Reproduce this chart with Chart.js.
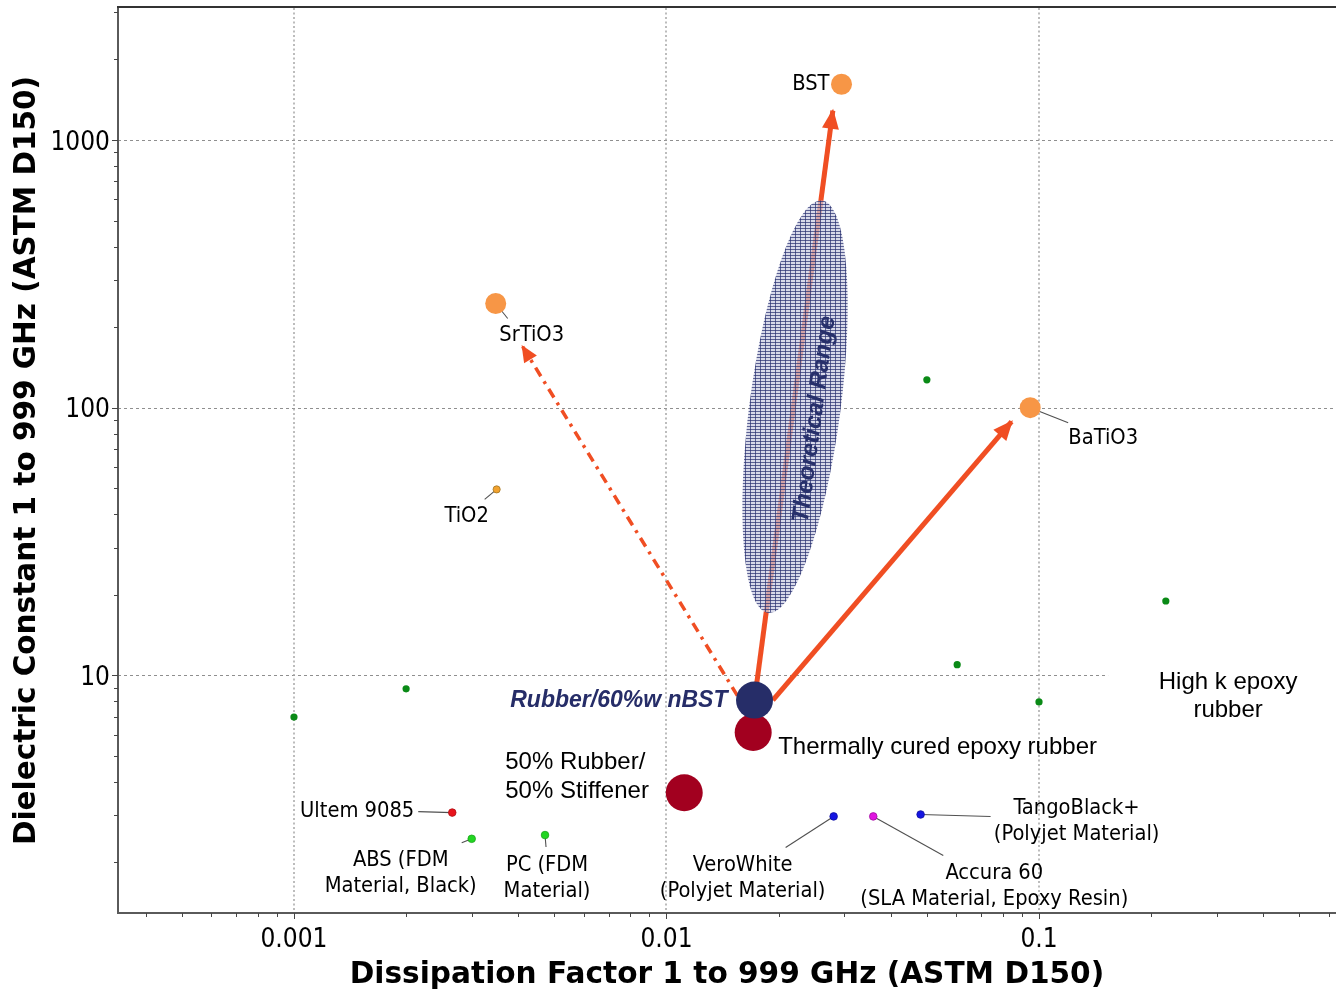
<!DOCTYPE html>
<html><head><meta charset="utf-8">
<script src="https://cdn.jsdelivr.net/npm/chart.js@4.4.1/dist/chart.umd.min.js"></script>
<style>html,body{margin:0;padding:0;background:#fff;}canvas{display:block;}</style>
</head><body>
<canvas id="c" width="1336" height="997"></canvas>
<script>
// ---------------- DATA ----------------
const xTickValues = [0.001, 0.01, 0.1];
const xTickLabels = ['0.001', '0.01', '0.1'];
const yTickValues = [10, 100, 1000];
const yTickLabels = ['10', '100', '1000'];
const xRange = [0.000337, 0.627];
const yRange = [1.294, 3113];

const xTitle = 'Dissipation Factor 1 to 999 GHz (ASTM D150)';
const yTitle = 'Dielectric Constant 1 to 999 GHz (ASTM D150)';

// large composite samples
const compositeNames = ['Rubber/60%w nBST', 'Thermally cured epoxy rubber', '50% Rubber/50% Stiffener'];
const compositeDf = [0.01723, 0.01709, 0.01116];
const compositeDk = [8.08, 6.12, 3.64];

// ceramic fillers
const ceramicNames = ['BST', 'SrTiO3', 'BaTiO3'];
const ceramicDf = [0.0295, 0.00348, 0.0947];
const ceramicDk = [1615, 245, 100];

const tio2Names = ['TiO2'];
const tio2Df = [0.0035];
const tio2Dk = [49.5];

// high k epoxy rubber literature points
const highKDf = [0.001, 0.002, 0.05, 0.0603, 0.1, 0.219];
const highKDk = [6.98, 8.9, 127, 10.96, 7.95, 18.95];
const highKLabel = 'High k epoxy rubber';
const highKLabelAt = [0.3218, 8.43];

// 3D printing materials
const printNames = ['Ultem 9085', 'ABS (FDM Material, Black)', 'PC (FDM Material)', 'VeroWhite (Polyjet Material)', 'Accura 60 (SLA Material, Epoxy Resin)', 'TangoBlack+ (Polyjet Material)'];
const printDf = [0.00266, 0.0030, 0.00472, 0.0281, 0.0359, 0.0481];
const printDk = [3.07, 2.45, 2.53, 2.97, 2.97, 3.02];

// arrows (from composite towards fillers)
const arrowFromDf = [0.01723, 0.0193, 0.0155];
const arrowFromDk = [8.08, 8.08, 8.4];
const arrowToDf = [0.02796, 0.0844, 0.00411];
const arrowToDk = [1287, 88.6, 169];

// theoretical range ellipse: major axis end points + minor/major ratio
const rangeLabel = 'Theoretical Range';
const rangeEndDf = [0.02617, 0.01872];
const rangeEndDk = [594, 17.1];
const rangeRatio = [0.219];

// ---------------- STYLE ----------------
function hasFont(name) {
  const c = document.createElement('canvas').getContext('2d');
  const s = 'abcdefghijklmnopqrstuvwxyz0123456789ABCDEF';
  c.font = '40px monospace'; const w1 = c.measureText(s).width;
  c.font = '40px "' + name + '", monospace'; const w2 = c.measureText(s).width;
  return Math.abs(w1 - w2) > 0.5;
}
const COND = hasFont('DejaVu Sans Condensed');
const smallFont = COND ? '21.7px "DejaVu Sans Condensed"' : '19.6px "DejaVu Sans"';
const tickFont = COND ? '26px "DejaVu Sans Condensed"' : '24px "DejaVu Sans"';
const bigFont = '24px "Liberation Sans", Arial, sans-serif';
const NAVY = '#262D68';
const ARROW = '#F04E23';

const labelLayout = {
  'BST': {lines: ['BST'], dx: -12, dy: 0, align: 'right', font: smallFont},
  'SrTiO3': {lines: ['SrTiO3'], dx: 36, dy: 32, align: 'center', font: smallFont, leader: [12, 15]},
  'BaTiO3': {lines: ['BaTiO3'], dx: 73, dy: 31, align: 'center', font: smallFont, leader: [38, 15]},
  'TiO2': {lines: ['TiO2'], dx: -30, dy: 27, align: 'center', font: smallFont, leader: [-12, 10]},
  'Ultem 9085': {lines: ['Ultem 9085'], dx: -38, dy: -1, align: 'right', font: smallFont, leader: [-34, -1]},
  'ABS (FDM Material, Black)': {lines: ['ABS (FDM', 'Material, Black)'], dx: -71, dy: 22, align: 'center', font: smallFont, lh: 26, leader: [-10, 4]},
  'PC (FDM Material)': {lines: ['PC (FDM', 'Material)'], dx: 2, dy: 30, align: 'center', font: smallFont, lh: 26, leader: [1, 12]},
  'VeroWhite (Polyjet Material)': {lines: ['VeroWhite', '(Polyjet Material)'], dx: -91, dy: 49, align: 'center', font: smallFont, lh: 26, leader: [-48, 31]},
  'Accura 60 (SLA Material, Epoxy Resin)': {lines: ['Accura 60', '(SLA Material, Epoxy Resin)'], dx: 121, dy: 57, align: 'center', font: smallFont, lh: 26, leader: [70, 39]},
  'TangoBlack+ (Polyjet Material)': {lines: ['TangoBlack+', '(Polyjet Material)'], dx: 156, dy: -6, align: 'center', font: smallFont, lh: 26, leader: [70, 2]},
  'Rubber/60%w nBST': {lines: ['Rubber/60%w nBST'], dx: -27, dy: 1, align: 'right', font: 'italic bold 23px "Liberation Sans", Arial, sans-serif', color: NAVY},
  'Thermally cured epoxy rubber': {lines: ['Thermally cured epoxy rubber'], dx: 25, dy: 15, align: 'left', font: bigFont},
  '50% Rubber/50% Stiffener': {lines: ['50% Rubber/', '50% Stiffener'], dx: -179, dy: -30, align: 'left', font: bigFont, lh: 29}
};

function pts(xs, ys) { return xs.map((x, i) => ({x: x, y: ys[i]})); }

const datasets = [
  {label: 'nBST composite', data: pts(compositeDf.slice(0, 1), compositeDk.slice(0, 1)), pointRadius: 18.5, pointBackgroundColor: NAVY, pointBorderColor: NAVY, pointBorderWidth: 0, order: 0},
  {label: 'Epoxy rubber', data: pts(compositeDf.slice(1), compositeDk.slice(1)), pointRadius: 18.5, pointBackgroundColor: '#A2001F', pointBorderColor: '#A2001F', pointBorderWidth: 0, order: 1},
  {label: 'Ceramics', data: pts(ceramicDf, ceramicDk), pointRadius: 10.5, pointBackgroundColor: '#F79646', pointBorderColor: '#F79646', pointBorderWidth: 0, order: 1},
  {label: 'TiO2', data: pts(tio2Df, tio2Dk), pointRadius: 3.6, pointBackgroundColor: '#F2A22E', pointBorderColor: '#A0762A', pointBorderWidth: 0.8, order: 1},
  {label: highKLabel, data: pts(highKDf, highKDk), pointRadius: 3.6, pointBackgroundColor: '#0A8A16', pointBorderColor: '#0A8A16', pointBorderWidth: 0, order: 1},
  {label: '3D printing', data: pts(printDf, printDk), pointRadius: 3.8,
   pointBackgroundColor: ['#E8141C', '#22D622', '#22D622', '#1515E2', '#E015E0', '#1515E2'],
   pointBorderColor: ['#B01015', '#1AA51A', '#1AA51A', '#1010A0', '#A010A0', '#1010A0'], pointBorderWidth: 0.8, order: 1}
];
for (let i = 0; i < arrowFromDf.length; i++) {
  datasets.push({
    label: 'arrow' + i,
    data: [{x: arrowFromDf[i], y: arrowFromDk[i]}, {x: arrowToDf[i], y: arrowToDk[i]}],
    showLine: true, pointRadius: 0, borderColor: ARROW,
    borderWidth: i === 2 ? 3.5 : 5, borderDash: i === 2 ? [10, 6, 3, 6] : [],
    order: 5, fill: false
  });
}

function px(chart, x, y) { return [chart.scales.x.getPixelForValue(x), chart.scales.y.getPixelForValue(y)]; }

const underlay = {
  id: 'underlay',
  beforeDatasetsDraw(chart) {
    const {ctx, chartArea: a, scales: {x, y}} = chart;
    ctx.save();
    // grid
    ctx.lineWidth = 1;
    ctx.strokeStyle = '#8f8f8f';
    ctx.setLineDash([3, 3]);
    yTickValues.forEach(v => { const p = Math.round(y.getPixelForValue(v)) + 0.5; ctx.beginPath(); ctx.moveTo(a.left, p); ctx.lineTo(a.right, p); ctx.stroke(); });
    ctx.strokeStyle = '#a6a6a6';
    ctx.lineWidth = 1.5;
    ctx.setLineDash([2, 2.5]);
    xTickValues.forEach(v => { const p = Math.round(x.getPixelForValue(v)); ctx.beginPath(); ctx.moveTo(p, a.top); ctx.lineTo(p, a.bottom); ctx.stroke(); });
    ctx.setLineDash([]);
    // tick labels
    ctx.fillStyle = '#000'; ctx.font = tickFont; ctx.textBaseline = 'alphabetic';
    ctx.textAlign = 'center';
    xTickValues.forEach((v, i) => ctx.fillText(xTickLabels[i], x.getPixelForValue(v), a.bottom + 34));
    ctx.textAlign = 'right';
    yTickValues.forEach((v, i) => ctx.fillText(yTickLabels[i], a.left - 8, y.getPixelForValue(v) + 9.5));
    // leader lines
    ctx.strokeStyle = '#505050'; ctx.lineWidth = 1.1;
    const allNames = [].concat(ceramicNames, tio2Names, printNames);
    const allX = [].concat(ceramicDf, tio2Df, printDf);
    const allY = [].concat(ceramicDk, tio2Dk, printDk);
    allNames.forEach((n, i) => {
      const L = labelLayout[n]; if (!L || !L.leader) return;
      const [sx, sy] = px(chart, allX[i], allY[i]);
      ctx.beginPath(); ctx.moveTo(sx, sy); ctx.lineTo(sx + L.leader[0], sy + L.leader[1]); ctx.stroke();
    });
    ctx.restore();
  },
  afterDatasetsDraw(chart) {
    const {ctx, chartArea: a, scales: {x, y}} = chart;
    ctx.save();
    // ellipse
    const [x1, y1] = px(chart, rangeEndDf[0], rangeEndDk[0]);
    const [x2, y2] = px(chart, rangeEndDf[1], rangeEndDk[1]);
    const cx = (x1 + x2) / 2, cy = (y1 + y2) / 2;
    const ra = Math.hypot(x1 - x2, y1 - y2) / 2, rb = ra * rangeRatio[0];
    const ang = Math.atan2(y1 - y2, x1 - x2);
    const t = document.createElement('canvas'); t.width = 5; t.height = 3;
    const g = t.getContext('2d');
    g.fillStyle = 'rgba(198,201,224,0.7)'; g.fillRect(0, 0, 5, 3);
    g.fillStyle = 'rgba(42,50,112,0.72)'; g.fillRect(0, 0, 5, 1); g.fillRect(0, 0, 1, 3);
    ctx.fillStyle = ctx.createPattern(t, 'repeat');
    ctx.beginPath(); ctx.ellipse(cx, cy, ra, rb, ang, 0, Math.PI * 2); ctx.fill();
    // ellipse label
    ctx.save();
    ctx.translate(cx, cy); ctx.rotate(ang);
    ctx.fillStyle = '#27306B';
    ctx.font = 'italic bold 24px "Liberation Sans", Arial, sans-serif';
    ctx.textAlign = 'center'; ctx.textBaseline = 'middle';
    ctx.fillText(rangeLabel, -10, 21);
    ctx.restore();
    // arrow heads
    for (let i = 0; i < arrowToDf.length; i++) {
      const [fx, fy] = px(chart, arrowFromDf[i], arrowFromDk[i]);
      const [tx, ty] = px(chart, arrowToDf[i], arrowToDk[i]);
      const d = Math.atan2(ty - fy, tx - fx);
      const len = i === 2 ? 15 : 18, hw = i === 2 ? 7.5 : 8.5;
      const bx = tx - Math.cos(d) * len, by = ty - Math.sin(d) * len;
      ctx.fillStyle = ARROW;
      ctx.beginPath();
      ctx.moveTo(tx + Math.cos(d) * 2, ty + Math.sin(d) * 2);
      ctx.lineTo(bx - Math.sin(d) * hw, by + Math.cos(d) * hw);
      ctx.lineTo(bx + Math.sin(d) * hw, by - Math.cos(d) * hw);
      ctx.closePath(); ctx.fill();
    }
    // high k label with white box
    const [hx, hy] = px(chart, highKLabelAt[0], highKLabelAt[1]);
    ctx.fillStyle = '#fff';
    ctx.fillRect(hx - 120, hy - 32, 240, 62);
    ctx.fillStyle = '#000'; ctx.font = bigFont; ctx.textAlign = 'center'; ctx.textBaseline = 'middle';
    const hl = ['High k epoxy', 'rubber'];
    ctx.fillText(hl[0], hx, hy - 13); ctx.fillText(hl[1], hx, hy + 15);
    // point labels
    const allNames = [].concat(compositeNames, ceramicNames, tio2Names, printNames);
    const allX = [].concat(compositeDf, ceramicDf, tio2Df, printDf);
    const allY = [].concat(compositeDk, ceramicDk, tio2Dk, printDk);
    allNames.forEach((n, i) => {
      const L = labelLayout[n]; if (!L) return;
      const [sx, sy] = px(chart, allX[i], allY[i]);
      ctx.font = L.font; ctx.fillStyle = L.color || '#000';
      ctx.textAlign = L.align; ctx.textBaseline = 'middle';
      L.lines.forEach((s, k) => ctx.fillText(s, sx + L.dx, sy + L.dy + k * (L.lh || 26)));
    });
    // axes lines, frame and ticks
    ctx.strokeStyle = '#5a5a5a'; ctx.lineWidth = 2;
    ctx.beginPath(); ctx.moveTo(a.left, a.top - 1); ctx.lineTo(a.left, a.bottom); ctx.lineTo(chart.width, a.bottom); ctx.stroke();
    ctx.strokeStyle = '#333'; ctx.beginPath(); ctx.moveTo(a.left - 1, a.top - 1); ctx.lineTo(chart.width, a.top - 1); ctx.stroke();
    ctx.strokeStyle = '#444'; ctx.lineWidth = 1;
    for (let e = -4; e <= 0; e++) for (let m = 1; m <= 9; m++) {
      const v = m * Math.pow(10, e); if (v < xRange[0] || v > xRange[1]) continue;
      const p = Math.round(x.getPixelForValue(v)) + 0.5;
      ctx.beginPath(); ctx.moveTo(p, a.bottom); ctx.lineTo(p, a.bottom + (m === 1 ? 6 : 4)); ctx.stroke();
    }
    for (let e = 0; e <= 3; e++) for (let m = 1; m <= 9; m++) {
      const v = m * Math.pow(10, e); if (v < yRange[0] || v > yRange[1]) continue;
      const p = Math.round(y.getPixelForValue(v)) + 0.5;
      ctx.beginPath(); ctx.moveTo(a.left, p); ctx.lineTo(a.left - (m === 1 ? 6 : 4), p); ctx.stroke();
    }
    ctx.restore();
  }
};

new Chart(document.getElementById('c'), {
  type: 'scatter',
  data: {datasets: datasets},
  options: {
    responsive: false, animation: false, events: [],
    layout: {autoPadding: false, padding: {left: 10, top: 8, right: 0, bottom: 4}},
    plugins: {legend: {display: false}, tooltip: {enabled: false}},
    scales: {
      x: {
        type: 'logarithmic', min: xRange[0], max: xRange[1],
        afterFit(s) { s.height = 80; },
        afterBuildTicks(s) { s.ticks = xTickValues.map(v => ({value: v})); s.min = xRange[0]; s.max = xRange[1]; },
        ticks: {display: false},
        grid: {display: false, drawTicks: false}, border: {display: false},
        title: {display: true, text: xTitle, font: {family: 'DejaVu Sans', weight: 'bold', size: 29.6}, color: '#000', padding: 0}
      },
      y: {
        type: 'logarithmic', min: yRange[0], max: yRange[1],
        afterFit(s) { s.width = 108; },
        afterBuildTicks(s) { s.ticks = yTickValues.map(v => ({value: v})); s.min = yRange[0]; s.max = yRange[1]; },
        ticks: {display: false},
        grid: {display: false, drawTicks: false}, border: {display: false},
        title: {display: true, text: yTitle, font: {family: 'DejaVu Sans', weight: 'bold', size: 29.5}, color: '#000', padding: 0}
      }
    }
  },
  plugins: [underlay]
});
</script>
</body></html>
